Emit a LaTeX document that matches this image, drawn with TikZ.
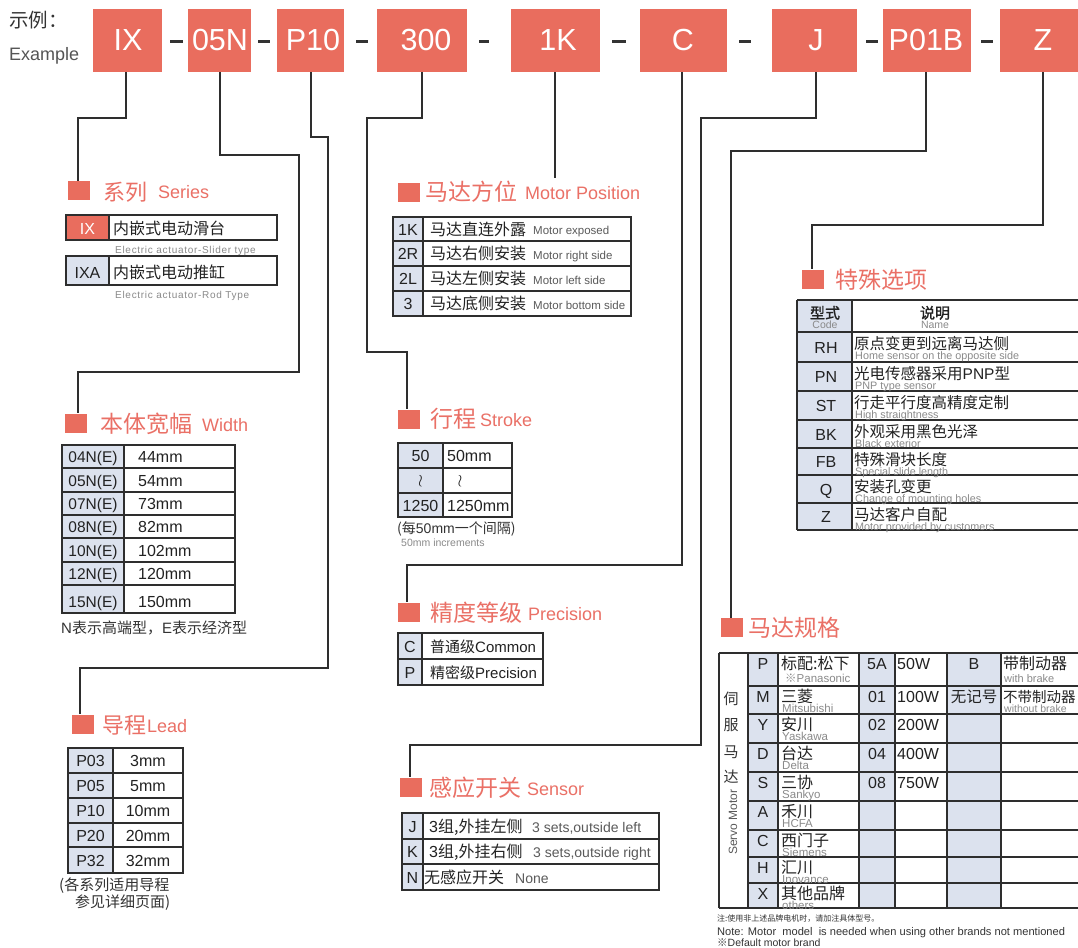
\documentclass[tikz,border=0pt]{standalone}
\usepackage{fontspec}
\setmainfont{Liberation Sans}
\newfontfamily\cjk{Noto Sans CJK SC}
\newfontfamily\cjkb[FakeBold=1.2]{Noto Sans CJK SC}
\newfontfamily\ensp[LetterSpace=7]{Liberation Sans}
\newcommand{\zh}[1]{{\cjk #1}}
\newcommand{\fsz}[1]{\fontsize{#1}{#1}\selectfont}
\definecolor{salmon}{HTML}{E96D5E}
\definecolor{ttl}{HTML}{EA7066}
\definecolor{cellb}{HTML}{DCE2EE}
\definecolor{lin}{HTML}{2E2E2E}
\definecolor{txt}{HTML}{222222}
\definecolor{subc}{HTML}{8A8A8A}
\definecolor{subd}{HTML}{5A5A5A}
\definecolor{hd}{HTML}{333333}
\definecolor{hdtwo}{HTML}{555555}
\tikzset{
  topbox/.style={fill=salmon,draw=none,inner sep=0,minimum height=63},
  toptxt/.style={font=\fsz{30.5},text=white,anchor=base,inner sep=0},
  dashln/.style={draw=hd,line width=2.2},
  marker/.style={fill=salmon,draw=none,inner sep=0,minimum width=22,minimum height=19},
  ttlzh/.style={font=\cjk\fsz{23},text=ttl,anchor=base west,inner sep=0},
  ttlen/.style={font=\fsz{18},text=ttl,anchor=base west,inner sep=0},
  conn/.style={draw=lin,line width=1.1},
  grid/.style={draw=lin,line width=1.3},
  codec/.style={font=\fsz{16},text=txt,anchor=base,inner sep=0},
  vall/.style={font=\fsz{16},text=txt,anchor=base west,inner sep=0},
  zhd/.style={font=\cjk\fsz{15.5},text=txt,anchor=base west,inner sep=0},
  mix/.style={font=\fsz{15.5},text=txt,anchor=base west,inner sep=0},
  ensub/.style={font=\ensp\fsz{10},text=subc,anchor=base west,inner sep=0},
  ensm/.style={font=\fsz{11.5},text=subd,anchor=base west,inner sep=0},
  entb/.style={font=\fsz{11},text=subc,anchor=base west,inner sep=0},
  note/.style={font=\fsz{15},text=hd,anchor=base west,inner sep=0},
}
\begin{document}
\begin{tikzpicture}[x=1pt,y=-1pt]
\useasboundingbox (0,0) rectangle (1078,947);
\fill[white] (0,0) rectangle (1078,947);
\clip (0,0) rectangle (1078,947);

% ---------------- header row ----------------
\node[anchor=base west,font=\cjk\fsz{19.5},text=hd,inner sep=0] (tEx) at (9,28) {示例：};
\node[anchor=base west,font=\fsz{18},text=hdtwo,inner sep=0] (tExE) at (9,61) {Example};
\foreach \n/\a/\b/\t/\l in {IX/93/162/128/IX, 05N/188/251/220/05N, P10/277/344/313/P10,
  300/377/467/426/300, 1K/511/600/558/1K, C/640/727/683/C, J/772/857/816/J,
  P01B/883/971/926/P01B, Z/1000/1090/1043/Z}{
  \node[topbox,minimum width=\b-\a] (b\n) at ({(\a+\b)/2},40.5) {};
  \node[toptxt] (t\n) at (\t,50.5) {\l};
}
\foreach \a/\b in {170/183,258/270,356/368,479/489,612/626,739/751,866/878,981/993}
  \draw[dashln] (\a,41.5) -- (\b,41.5);

% ---------------- section markers and titles ----------------
\node[marker] (mSeries) at (79,190.5) {};
\node[ttlzh,font=\cjk\fsz{22}] (hSerZ) at (103,200) {系列};
\node[ttlen] (hSerE) at (158,198) {Series};

\node[marker] (mWidth) at (76,423) {};
\node[ttlzh] (hWidZ) at (100,432.5) {本体宽幅};
\node[ttlen] (hWidE) at (202,431) {Width};

\node[marker] (mLead) at (82.5,724) {};
\node[ttlzh,font=\cjk\fsz{22}] (hLeadZ) at (102,733) {导程};
\node[ttlen] (hLeadE) at (147,732) {Lead};

\node[marker] (mPos) at (408.5,192) {};
\node[ttlzh] (hPosZ) at (425,200.5) {马达方位};
\node[ttlen] (hPosE) at (525,199.5) {Motor Position};

\node[marker] (mStroke) at (408.5,419) {};
\node[ttlzh] (hStrZ) at (430,427.5) {行程};
\node[ttlen] (hStrE) at (480,426.5) {Stroke};

\node[marker] (mPrec) at (408.5,612) {};
\node[ttlzh] (hPreZ) at (430,621.5) {精度等级};
\node[ttlen] (hPreE) at (528,620) {Precision};

\node[marker] (mSensor) at (411,787) {};
\node[ttlzh] (hSenZ) at (429,796) {感应开关};
\node[ttlen] (hSenE) at (527,795) {Sensor};

\node[marker] (mSpecial) at (812.5,279) {};
\node[ttlzh] (hSpeZ) at (835,288.5) {特殊选项};

\node[marker] (mMotor) at (731.5,627.5) {};
\node[ttlzh] (hMotZ) at (748,636.5) {马达规格};

% ---------------- connectors ----------------
\coordinate (e1K) at (555,178);
\draw[conn] (bIX.south -| 126,0) |- (78,118) -- (mSeries.north -| 78,0);
\draw[conn] (b05N.south -| t05N) |- (299,155) |- (78,372) -- (mWidth.north -| 78,0);
\draw[conn] (bP10.south -| 311,0) |- (328,137) |- (80,668) -- (mLead.north -| 80,0);
\draw[conn] (b300.south -| 422,0) |- (367,118) |- (407,352) -- (mStroke.north -| 407,0);
\draw[conn] (b1K.south -| e1K) -- (e1K);
\draw[conn] (bC.south -| 682,0) |- (407,565) -- (mPrec.north -| 407,0);
\draw[conn] (bJ.south -| tJ) |- (701,118) |- (410,745) -- (mSensor.north -| 410,0);
\draw[conn] (bP01B.south -| tP01B) |- (731,151) -- (mMotor.north -| 731,0);
\draw[conn] (bZ.south -| tZ) |- (812,225) -- (mSpecial.north -| 812,0);

% ---------------- Series table ----------------
\fill[salmon] (66,215) rectangle (109,240);
\fill[cellb] (66,256) rectangle (109,285);
\draw[grid] (66,215) rectangle (277,240) (109,215) -- (109,240);
\draw[grid] (66,256) rectangle (277,285) (109,256) -- (109,285);
\node[codec,text=white] (sIX) at (87.5,234.5) {IX};
\node[codec] (sIXA) at (87.5,278) {IXA};
\node[zhd,font=\cjk\fsz{16}] (sIXd) at (113,234.5) {内嵌式电动滑台};
\node[zhd,font=\cjk\fsz{16}] (sIXAd) at (113,278) {内嵌式电动推缸};
\node[ensub] (sIXe) at (115,253) {Electric actuator-Slider type};
\node[ensub] (sIXAe) at (115,298) {Electric actuator-Rod Type};

% ---------------- Motor position table ----------------
\fill[cellb] (393,217) rectangle (423,316);
\draw[grid] (393,217) rectangle (631,316) (423,217) -- (423,316);
\foreach \y in {241,266,291} \draw[grid] (393,\y) -- (631,\y);
\foreach \i/\c/\z/\e/\y in {1/1K/马达直连外露/Motor exposed/229,
  2/2R/马达右侧安装/Motor right side/253.5, 3/2L/马达左侧安装/Motor left side/278.5,
  4/3/马达底侧安装/Motor bottom side/303.5}{
  \node[codec] (pc\i) at (408,\y+6) {\c};
  \node[zhd,font=\cjk\fsz{16}] (pz\i) at (430,\y+6) {\z};
  \node[ensm] (pe\i) at (533,\y+5.5) {\e};
}

% ---------------- Width table ----------------
\fill[cellb] (62,445) rectangle (124,613);
\draw[grid] (62,445) rectangle (235,613) (124,445) -- (124,613);
\foreach \y in {468,492,515,538,562,585} \draw[grid] (62,\y) -- (235,\y);
\foreach \i/\c/\v/\y in {1/04N(E)/44mm/456.5, 2/05N(E)/54mm/480, 3/07N(E)/73mm/503.5,
  4/08N(E)/82mm/526.5, 5/10N(E)/102mm/550, 6/12N(E)/120mm/573.5, 7/15N(E)/150mm/601}{
  \node[codec,font=\fsz{15.5}] (wc\i) at (93,\y+6) {\c};
  \node[vall] (wv\i) at (138,\y+6) {\v};
}
\node[note] (wNote) at (61,633) {N\zh{表示高端型，}E\zh{表示经济型}};

% ---------------- Stroke table ----------------
\fill[cellb] (398,443) rectangle (443,517);
\draw[grid] (398,443) rectangle (512,517) (443,443) -- (443,517);
\foreach \y in {468,493} \draw[grid] (398,\y) -- (512,\y);
\node[codec] (stc1) at (420.5,461.5) {50};
\node[codec] (stc2) at (420.5,485) {$\wr$};
\node[codec] (stc3) at (420.5,511) {1250};
\node[vall] (stv1) at (447,461.5) {50mm};
\node[codec] (stv2) at (460,485) {$\wr$};
\node[vall] (stv3) at (447,511) {1250mm};
\node[note,font=\fsz{14}] (stN1) at (397,533) {\zh{(每}50mm\zh{一个间隔)}};
\node[ensub,font=\fsz{10.5},text=subc] (stN2) at (401,546.5) {50mm increments};

% ---------------- Precision table ----------------
\fill[cellb] (398,633) rectangle (422,685);
\draw[grid] (398,633) rectangle (543,685) (422,633) -- (422,685) (398,659) -- (543,659);
\node[codec] (prc1) at (410,652) {C};
\node[codec] (prc2) at (410,678) {P};
\node[mix,font=\fsz{15}] (prd1) at (430,652) {\zh{普通级}Common};
\node[mix,font=\fsz{15}] (prd2) at (430,678) {\zh{精密级}Precision};

% ---------------- Lead table ----------------
\fill[cellb] (68,748) rectangle (113,873);
\draw[grid] (68,748) rectangle (183,873) (113,748) -- (113,873);
\foreach \y in {773,798,823,847} \draw[grid] (68,\y) -- (183,\y);
\foreach \i/\c/\v/\y in {1/P03/3mm/760.5, 2/P05/5mm/785.5, 3/P10/10mm/810.5,
  4/P20/20mm/835, 5/P32/32mm/860}{
  \node[codec] (lc\i) at (90.5,\y+6) {\c};
  \node[codec] (lv\i) at (148,\y+6) {\v};
}
\node[note] (lN1) at (59,890.5) {\zh{(各系列适用导程}};
\node[note] (lN2) at (75,907.5) {\zh{参见详细页面)}};

% ---------------- Sensor table ----------------
\fill[cellb] (402,813) rectangle (423,890);
\draw[grid] (402,813) rectangle (659,890) (423,813) -- (423,890);
\foreach \y in {839,864} \draw[grid] (402,\y) -- (659,\y);
\node[codec] (snc1) at (412.5,832) {J};
\node[codec] (snc2) at (412.5,857.5) {K};
\node[codec] (snc3) at (412.5,883) {N};
\node[mix,font=\fsz{16}] (snd1) at (429,832) {3\zh{组,外挂左侧}};
\node[mix,font=\fsz{16}] (snd2) at (429,857.5) {3\zh{组,外挂右侧}};
\node[zhd,font=\cjk\fsz{16}] (snd3) at (424,883) {无感应开关};
\node[ensm,font=\fsz{14}] (sne1) at (532,832) {3 sets,outside left};
\node[ensm,font=\fsz{14}] (sne2) at (533,857.5) {3 sets,outside right};
\node[ensm,font=\fsz{14}] (sne3) at (515,883) {None};

% ---------------- Special options table ----------------
\fill[cellb] (797,300) rectangle (852,530);
\draw[grid] (797,300) -- (1090,300) (797,530) -- (1090,530) (797,300) -- (797,530) (852,300) -- (852,530);
\foreach \y in {332,362,391,420,448,475,503} \draw[grid] (797,\y) -- (1090,\y);
\node[anchor=base,font=\cjkb\fsz{15},text=txt,inner sep=0] (spH1) at (825,318.5) {型式};
\node[anchor=base,font=\fsz{10.5},text=subc,inner sep=0] (spH1e) at (825,328) {Code};
\node[anchor=base,font=\cjkb\fsz{15},text=txt,inner sep=0] (spH2) at (935,318.5) {说明};
\node[anchor=base,font=\fsz{10.5},text=subc,inner sep=0] (spH2e) at (935,328) {Name};
\foreach \i/\t/\m/\c/\z/\e in {1/332/347/RH/原点变更到远离马达侧/Home sensor on the opposite side,
  2/362/376.5/PN/光电传感器采用{\rmfamily PNP}型/PNP type sensor,
  3/391/405.5/ST/行走平行度高精度定制/High straightness,
  4/420/434/BK/外观采用黑色光泽/Black exterior,
  5/448/461.5/FB/特殊滑块长度/Special slide length,
  6/475/489/Q/安装孔变更/Change of mounting holes,
  7/503/516.5/Z/马达客户自配/Motor provided by customers}{
  \node[codec] (spc\i) at (826,\m+6) {\c};
  \node[zhd] (spz\i) at (854,\t+17) {\z};
  \node[entb,font=\fsz{10.8}] (spe\i) at (855,\t+27.3) {\e};
}

% ---------------- Motor spec table ----------------
\fill[cellb] (748,653) rectangle (778,908);
\fill[cellb] (859,653) rectangle (895,908);
\fill[cellb] (947,653) rectangle (1001,908);
\draw[grid] (719,653) -- (1090,653) (719,908) -- (1090,908) (719,653) -- (719,908);
\foreach \x in {748,778,859,895,947,1001} \draw[grid] (\x,653) -- (\x,908);
\foreach \y in {686,714,743,772,801,830,857,883} \draw[grid] (748,\y) -- (1090,\y);
\foreach \i/\t/\c/\z/\e in {1/653/P/标配:松下/, 2/686/M/三菱/Mitsubishi, 3/714/Y/安川/Yaskawa,
  4/743/D/台达/Delta, 5/772/S/三协/Sankyo, 6/801/A/禾川/HCFA, 7/830/C/西门子/Siemens,
  8/857/H/汇川/Inovance, 9/883/X/其他品牌/others}{
  \node[codec] (mc\i) at (763,\t+16.5) {\c};
  \node[zhd,font=\cjk\fsz{16}] (mz\i) at (781,\t+16) {\z};
  \node[entb,font=\fsz{11.5}] (me\i) at (782,\t+26.8) {\e};
}
\node[entb,font=\fsz{11.5}] (me1b) at (785,682) {\zh{※}Panasonic};
\foreach \i/\t/\p/\w in {1/653/5A/50W, 2/686/01/100W, 3/714/02/200W, 4/743/04/400W, 5/772/08/750W}{
  \node[codec] (mp\i) at (877,\t+16.5) {\p};
  \node[vall] (mw\i) at (897,\t+16.5) {\w};
}
\node[codec] (mbB) at (974,669.5) {B};
\node[anchor=base,font=\cjk\fsz{15.5},text=txt,inner sep=0] (mbN) at (974,702.5) {无记号};
\node[zhd,font=\cjk\fsz{16}] (mbd1) at (1003,669) {带制动器};
\node[entb,font=\fsz{11}] (mbe1) at (1004,682) {with brake};
\node[zhd,font=\cjk\fsz{14.5}] (mbd2) at (1003,702) {不带制动器};
\node[entb,font=\fsz{10.5}] (mbe2) at (1004,712) {without brake};
\foreach \i/\ch/\y in {1/伺/699, 2/服/725.5, 3/马/752, 4/达/776.5}
  \node[font=\cjk\fsz{15},text=hd,inner sep=0] (sv\i) at (731,\y) {\ch};
\node[rotate=90,font=\fsz{12},text=subd,inner sep=0] (svE) at (733,822) {Servo Motor};
\node[anchor=base west,font=\cjk\fsz{8},text=hd,inner sep=0] (mn1) at (717,921) {注:使用非上述品牌电机时，请加注具体型号。};
\node[anchor=base west,font=\fsz{11.1},text=hd,inner sep=0] (mn2) at (717,935.5) {Note: Motor\ \ model\ \ is needed when using other brands not mentioned};
\node[anchor=base west,font=\fsz{10.5},text=hd,inner sep=0] (mn3) at (717,946) {\zh{※}Default motor brand};
\end{tikzpicture}
\end{document}
